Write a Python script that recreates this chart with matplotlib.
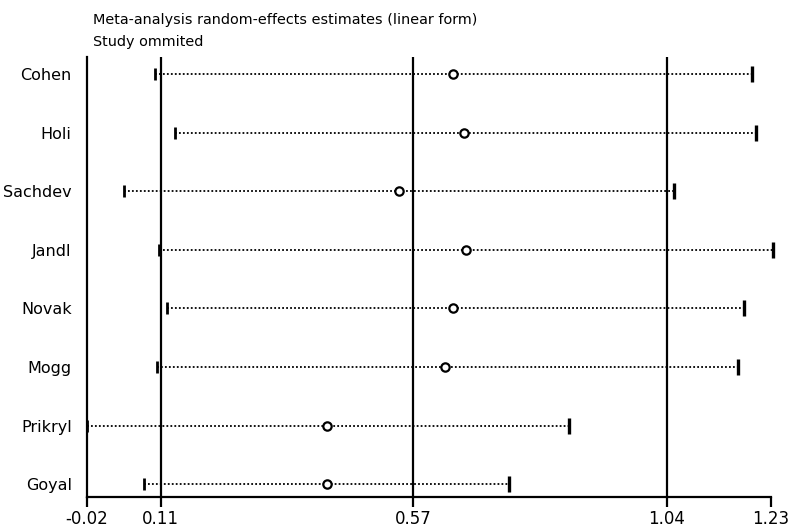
#!/usr/bin/env python3
"""Leave-one-out meta-analysis plot (random-effects, linear form)."""
import matplotlib
matplotlib.use("Agg")
import matplotlib.pyplot as plt

studies = ["Cohen", "Holi", "Sachdev", "Jandl", "Novak", "Mogg", "Prikryl", "Goyal"]
estimate = [0.647, 0.667, 0.548, 0.671, 0.647, 0.632, 0.417, 0.417]
lower = [0.102, 0.139, 0.046, 0.110, 0.124, 0.106, -0.022, 0.082]
upper = [1.193, 1.201, 1.051, 1.232, 1.179, 1.168, 0.859, 0.749]

# overall pooled estimate and CI, plus axis ends
overall = [0.113, 0.574, 1.038]
x_min, x_max = -0.022, 1.228

plt.rcParams["font.family"] = ["DejaVu Sans"]

fig = plt.figure(figsize=(7.94, 5.28), dpi=100)
ax = fig.add_axes([87 / 794, 31 / 528, 684 / 794, 440 / 528])

ypos = [len(studies) - 1 - i for i in range(len(studies))]

for v in overall:
    ax.axvline(v, color="black", lw=1.6, zorder=1)

for y, lo, est, hi in zip(ypos, lower, estimate, upper):
    ax.plot([lo, hi], [y, y], color="black", ls=(0, (1, 1.2)), lw=1.3, zorder=2, clip_on=False)
    ax.plot(lo, y, marker="|", ms=9, mew=2, color="black", zorder=3, clip_on=False)
    ax.plot(hi, y, marker="|", ms=12, mew=2.4, color="black", zorder=3, clip_on=False)
    ax.plot(est, y, marker="o", ms=6, mew=1.6, mfc="white", mec="black", zorder=4)

ax.set_xlim(x_min, x_max)
ax.set_ylim(-0.22, len(studies) - 1 + 0.29)

ticks = [x_min] + overall + [x_max]
ax.set_xticks(ticks)
ax.set_xticklabels([f"{t:.2f}" for t in ticks], fontsize=12)
ax.tick_params(axis="x", direction="out", length=7, width=1.6, pad=2)

ax.set_yticks(ypos)
ax.set_yticklabels(studies, fontsize=11.5)
ax.tick_params(axis="y", length=0, pad=11)

for side in ("top", "right"):
    ax.spines[side].set_visible(False)
for side in ("left", "bottom"):
    ax.spines[side].set_linewidth(1.6)

fig.text(93 / 794, 1 - 20 / 528, "Meta-analysis random-effects estimates (linear form)",
         fontsize=10.4, va="center", ha="left")
fig.text(93 / 794, 1 - 42 / 528, "Study ommited", fontsize=10.4, va="center", ha="left")

fig.savefig("out.png", dpi=100)
